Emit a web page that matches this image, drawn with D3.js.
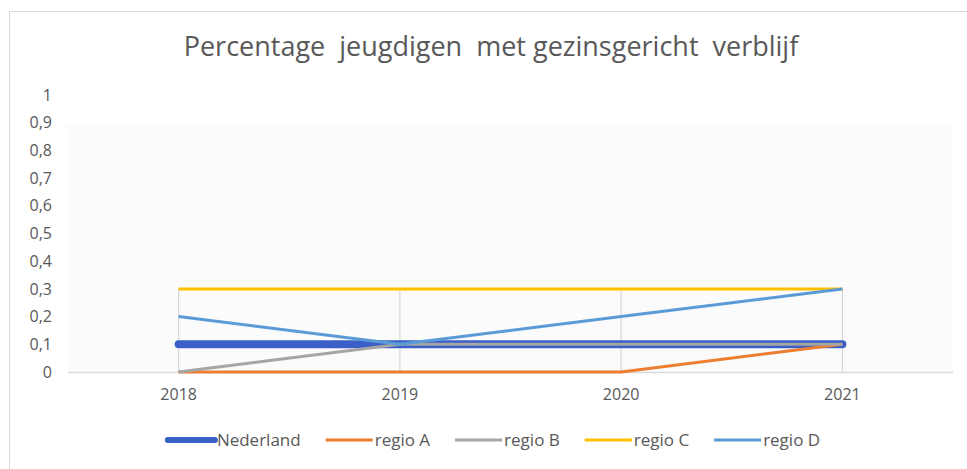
<!DOCTYPE html>
<html>
<head>
<meta charset="utf-8">
<script src="https://cdn.jsdelivr.net/npm/d3@7/dist/d3.min.js"></script>
<style>
  html, body { margin: 0; padding: 0; background: #ffffff; }
  svg { display: block; }
  text { font-family: "Open Sans", "DejaVu Sans", sans-serif; fill: #595959; }
</style>
</head>
<body>
<svg id="chart" width="967" height="469"></svg>
<script>
const title = "Percentage  jeugdigen  met gezinsgericht  verblijf";
const years = ["2018", "2019", "2020", "2021"];
const seriesNames = ["Nederland", "regio A", "regio B", "regio C", "regio D"];
const nederland = [0.1, 0.1, 0.1, 0.1];
const regioA = [0, 0, 0, 0.1];
const regioB = [0, 0.1, 0.1, 0.1];
const regioC = [0.3, 0.3, 0.3, 0.3];
const regioD = [0.2, 0.1, 0.2, 0.3];
const yTicks = [0, 0.1, 0.2, 0.3, 0.4, 0.5, 0.6, 0.7, 0.8, 0.9, 1];
const colors = ["#3a5fc8", "#ed7d31", "#a5a5a5", "#ffc000", "#5b9bd5"];
const widths = [8, 3, 3, 3, 3];

const seriesValues = [nederland, regioA, regioB, regioC, regioD];
const series = seriesNames.map((n, i) => ({ name: n, values: seriesValues[i], color: colors[i], width: widths[i] }));

const svg = d3.select("#chart");
const plot = { left: 68, right: 953, top: 95, bottom: 372 };

// outer chart border
svg.append("rect").attr("x", 9.5).attr("y", 11.5).attr("width", 980).attr("height", 480)
  .attr("fill", "#ffffff").attr("stroke", "#d9d9d9").attr("stroke-width", 1);

// faint plot background
svg.append("rect").attr("x", plot.left).attr("y", plot.top + 30)
  .attr("width", plot.right - plot.left).attr("height", plot.bottom - plot.top - 30)
  .attr("fill", "#fbfbfb");

const x = d3.scaleBand().domain(years).range([plot.left, plot.right]);
const y = d3.scaleLinear().domain([0, 1]).range([plot.bottom, plot.top]);
const cx = d => x(d) + x.bandwidth() / 2;

// title
svg.append("text").attr("x", 491).attr("y", 56).attr("text-anchor", "middle")
  .style("font-size", "27px").style("white-space", "pre").attr("xml:space", "preserve")
  .text(title);

// vertical lines at categories (0 to 0.3)
svg.append("g").selectAll("line").data(years).join("line")
  .attr("x1", d => cx(d)).attr("x2", d => cx(d))
  .attr("y1", y(0.3)).attr("y2", y(0))
  .attr("stroke", "#d0d0d0").attr("stroke-width", 1);

// y axis labels
const yAxis = d3.axisLeft(y).tickValues(yTicks).tickSize(0).tickPadding(0)
  .tickFormat(d => d3.format("")(Math.round(d * 10) / 10).replace(".", ","));
const gy = svg.append("g").attr("transform", `translate(${52},0)`).call(yAxis);
gy.select(".domain").remove();
gy.selectAll("text").style("font-size", "16px").style("fill", "#595959");

// x axis
const xAxis = d3.axisBottom(x).tickSize(0).tickPadding(17);
const gx = svg.append("g").attr("transform", `translate(0,${plot.bottom})`).call(xAxis);
gx.select(".domain").attr("stroke", "#d9d9d9").attr("stroke-width", 1.5);
gx.selectAll("text").style("font-size", "16px").style("fill", "#595959");

// lines
const line = d3.line().x((d, i) => cx(years[i])).y(d => y(d));
svg.append("g").selectAll("path").data(series).join("path")
  .attr("d", s => line(s.values))
  .attr("fill", "none")
  .attr("stroke", s => s.color)
  .attr("stroke-width", s => s.width)
  .attr("stroke-linecap", s => s.width > 4 ? "round" : "butt")
  .attr("stroke-linejoin", "round");

// legend
const legend = svg.append("g");
const items = legend.selectAll("g").data(series).join("g");
items.append("line").attr("x1", 0).attr("x2", 47).attr("y1", 0).attr("y2", 0)
  .attr("stroke", s => s.color).attr("stroke-width", s => s.width > 4 ? 6 : 3)
  .attr("stroke-linecap", s => s.width > 4 ? "round" : "butt");
items.append("text").attr("x", 49).attr("y", 6).style("font-size", "17px").text(s => s.name);
let pos = 0;
const offsets = [];
const gap = 25;
items.each(function () {
  offsets.push(pos);
  const tw = d3.select(this).select("text").node().getComputedTextLength();
  pos += 49 + tw + gap;
});
const total = pos - gap;
const startX = 494 - total / 2;
items.attr("transform", (d, i) => `translate(${startX + offsets[i]},440)`);
</script>
</body>
</html>
